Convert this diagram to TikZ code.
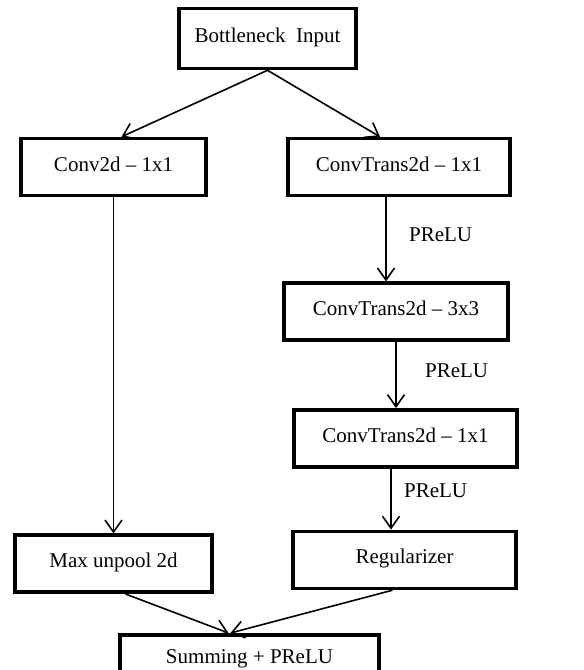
\documentclass[tikz,border=0pt]{standalone}
\usepackage{fontspec}
\setmainfont{Liberation Serif}
\usetikzlibrary{arrows.meta, positioning}

\begin{document}
\begin{tikzpicture}[x=1pt, y=-1pt, >={Straight Barb[length=12pt,width=17pt]}, font=\fontsize{21pt}{25pt}\selectfont]
\tikzstyle{bx}=[draw, line width=3.6pt, minimum height=57pt, text height=15pt, text depth=7pt, align=center]
\tikzstyle{ln}=[->, line width=1.6pt]

\useasboundingbox (0,0) rectangle (584,670);
\clip (0,0) rectangle (584,670);

\node[bx, minimum width=177.5pt, minimum height=60pt] (bin) at (267.5,38.5) {Bottleneck~~Input};

\node[bx, minimum width=185.5pt, below=66.5pt of bin, xshift=-154pt] (conv) {Conv2d – 1x1};
\node[bx, minimum width=222.5pt, below=66.5pt of bin, xshift=131.5pt] (ct1) {ConvTrans2d – 1x1};
\draw[ln] (bin.south) -- ([xshift=8pt]conv.north);
\draw[ln] (bin.south) -- ([xshift=-19pt]ct1.north);

\node[bx, minimum width=224.5pt, below=84pt of ct1, xshift=-3pt] (ct3) {ConvTrans2d – 3x3};
\draw[ln] ([xshift=-13pt]ct1.south) -- ([xshift=-13pt]ct1.south |- ct3.north) node[pos=0.45, right=19pt] {PReLU};

\node[bx, minimum width=223.5pt, below=66pt of ct3, xshift=9.5pt] (ct1b) {ConvTrans2d – 1x1};
\draw[ln] (ct3.south) -- (ct3.south |- ct1b.north) node[pos=0.43, right=25pt] {PReLU};

\node[bx, minimum width=223.5pt, below=61pt of ct1b, xshift=-1pt] (reg) {Regularizer};
\draw[ln] ([xshift=-14.5pt]ct1b.south) -- ([xshift=-14.5pt]ct1b.south |- reg.north) node[pos=0.36, right=9pt] {PReLU};

\node[bx, minimum width=196.5pt, below=336pt of conv] (unpool) {Max unpool 2d};
\draw[ln] (conv) -- (unpool);

\node[bx, minimum width=258.5pt, minimum height=50pt, below=39pt of unpool, xshift=136pt] (sum) {Summing + PReLU};
\draw[ln] ([xshift=12pt]unpool.south) -- ([xshift=-21pt]sum.north);
\draw[ln] ([xshift=-12pt]reg.south) -- ([xshift=-19pt]sum.north);
\end{tikzpicture}
\end{document}
